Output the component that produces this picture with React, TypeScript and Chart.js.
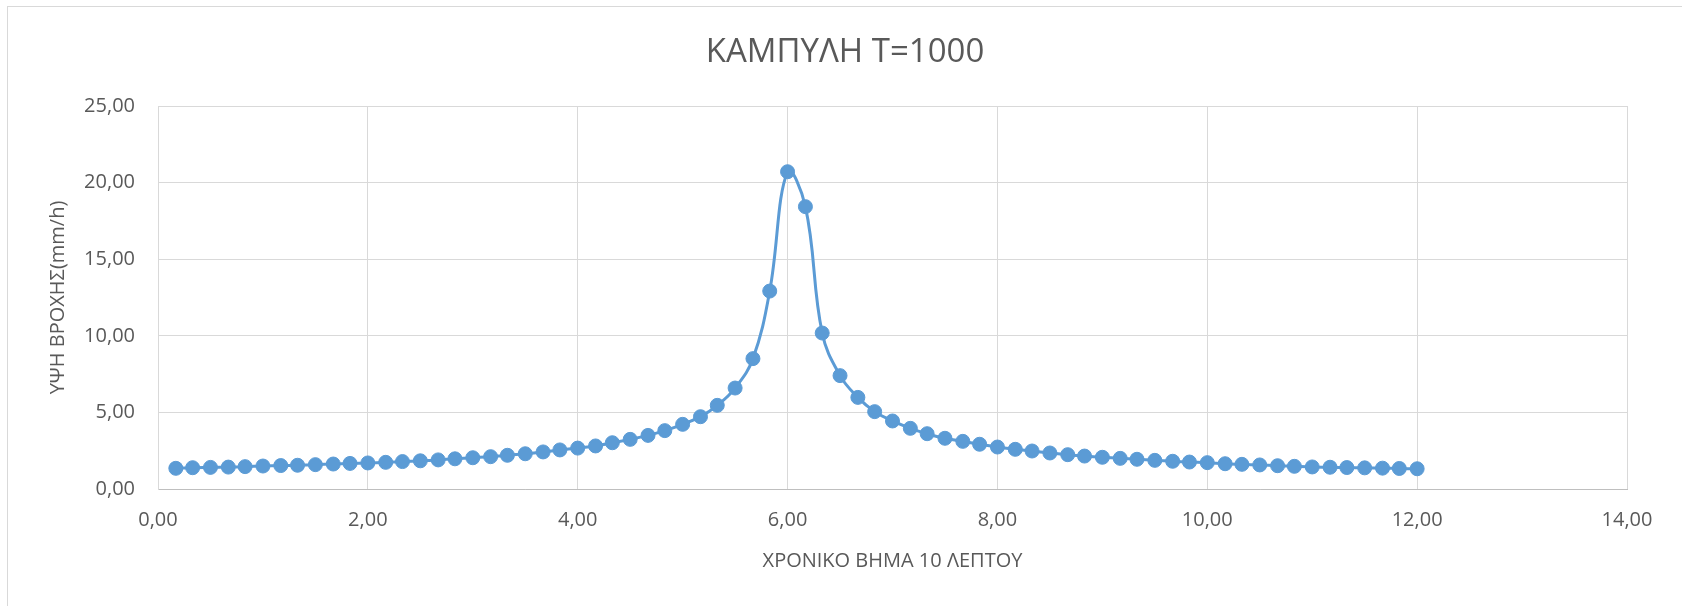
import React, { useEffect, useRef } from "react";
import { Chart, registerables } from "chart.js";

Chart.register(...registerables);

const TITLE = "ΚΑΜΠΥΛΗ Τ=1000";
const X_TITLE = "ΧΡΟΝΙΚΟ ΒΗΜΑ 10 ΛΕΠΤΟΥ";
const Y_TITLE = "ΥΨΗ ΒΡΟΧΗΣ(mm/h)";

// time step (x) values: 10-minute steps expressed in hours
const xValues: number[] = [
  0.17, 0.33, 0.5, 0.67, 0.83, 1.0, 1.17, 1.33, 1.5, 1.67, 1.83, 2.0,
  2.17, 2.33, 2.5, 2.67, 2.83, 3.0, 3.17, 3.33, 3.5, 3.67, 3.83, 4.0,
  4.17, 4.33, 4.5, 4.67, 4.83, 5.0, 5.17, 5.33, 5.5, 5.67, 5.83, 6.0,
  6.17, 6.33, 6.5, 6.67, 6.83, 7.0, 7.17, 7.33, 7.5, 7.67, 7.83, 8.0,
  8.17, 8.33, 8.5, 8.67, 8.83, 9.0, 9.17, 9.33, 9.5, 9.67, 9.83, 10.0,
  10.17, 10.33, 10.5, 10.67, 10.83, 11.0, 11.17, 11.33, 11.5, 11.67, 11.83, 12.0,
];

// rainfall intensity (mm/h)
const yValues: number[] = [
  1.35, 1.39, 1.41, 1.43, 1.46, 1.5, 1.53, 1.55, 1.59, 1.63, 1.67, 1.7,
  1.74, 1.79, 1.84, 1.9, 1.97, 2.04, 2.11, 2.2, 2.3, 2.42, 2.55, 2.67,
  2.81, 3.02, 3.24, 3.5, 3.81, 4.22, 4.72, 5.46, 6.59, 8.51, 12.92, 20.71,
  18.43, 10.18, 7.4, 5.98, 5.05, 4.44, 3.96, 3.61, 3.31, 3.11, 2.92, 2.74,
  2.59, 2.48, 2.35, 2.24, 2.15, 2.07, 2.0, 1.94, 1.87, 1.81, 1.76, 1.72,
  1.65, 1.61, 1.57, 1.52, 1.48, 1.44, 1.42, 1.4, 1.38, 1.36, 1.34, 1.32,
];

const X_MIN = 0;
const X_MAX = 14;
const X_STEP = 2;
const Y_MIN = 0;
const Y_MAX = 25;
const Y_STEP = 5;

const fmt = (v: number | string) => Number(v).toFixed(2).replace(".", ",");
const FONT = "'Open Sans', sans-serif";

const titlePlugin = {
  id: "chartTitleText",
  afterDraw(chart: any) {
    const ctx = chart.ctx;
    ctx.save();
    ctx.fillStyle = "#595959";
    ctx.font = `normal 33px ${FONT}`;
    ctx.textAlign = "center";
    ctx.textBaseline = "middle";
    ctx.fillText(TITLE, 845, 53);
    ctx.restore();
  },
};

export default function App() {
  const ref = useRef<HTMLCanvasElement | null>(null);

  useEffect(() => {
    document.body.style.margin = "0";
    const canvas = ref.current;
    if (!canvas) return;
    const points = xValues.map((x, i) => ({ x, y: yValues[i] }));
    const chart = new Chart(canvas, {
      type: "scatter",
      data: {
        datasets: [
          {
            data: points,
            showLine: true,
            borderColor: "#5b9bd5",
            backgroundColor: "#5b9bd5",
            borderWidth: 3,
            pointRadius: 7,
            pointBorderWidth: 1,
            pointBorderColor: "#5b9bd5",
            pointBackgroundColor: "#5b9bd5",
            tension: 0.4,
          },
        ],
      },
      plugins: [titlePlugin],
      options: {
        animation: false,
        responsive: false,
        devicePixelRatio: 1,
        layout: { padding: { left: 0, right: 55, top: 106, bottom: 0 } },
        plugins: {
          legend: { display: false },
          tooltip: { enabled: false },
          title: { display: false },
        },
        scales: {
          x: {
            type: "linear",
            min: X_MIN,
            max: X_MAX,
            afterFit: (s: any) => {
              s.height = 117;
            },
            ticks: {
              stepSize: X_STEP,
              color: "#595959",
              font: { family: FONT, size: 20 },
              padding: 19,
              callback: (v: any) => fmt(v),
              maxRotation: 0,
            },
            grid: { color: "#d9d9d9", lineWidth: 1, drawTicks: false },
            border: { color: "#bfbfbf", width: 1 },
            title: {
              display: true,
              text: X_TITLE,
              color: "#595959",
              font: { family: FONT, size: 20 },
              padding: { top: 0, bottom: 33 },
            },
          },
          y: {
            type: "linear",
            min: Y_MIN,
            max: Y_MAX,
            afterFit: (s: any) => {
              s.width = 158;
            },
            ticks: {
              stepSize: Y_STEP,
              color: "#595959",
              font: { family: FONT, size: 20 },
              padding: 23,
              callback: (v: any) => fmt(v),
            },
            grid: { color: "#d9d9d9", lineWidth: 1, drawTicks: false },
            border: { color: "#d9d9d9", width: 1 },
            title: {
              display: true,
              text: Y_TITLE,
              color: "#595959",
              font: { family: FONT, size: 20 },
              padding: { top: 46, bottom: 0 },
            },
          },
        },
      },
    });
    return () => chart.destroy();
  }, []);

  return (
    <div
      style={{
        position: "fixed",
        left: 0,
        top: 0,
        width: 1682,
        height: 606,
        overflow: "hidden",
        background: "#fff",
      }}
    >
      <div
        style={{
          position: "absolute",
          left: 7,
          top: 6,
          width: 1800,
          height: 800,
          border: "1px solid #d9d9d9",
        }}
      />
      <canvas
        ref={ref}
        width={1682}
        height={606}
        style={{ position: "absolute", left: 0, top: 0, width: 1682, height: 606 }}
      />
    </div>
  );
}
